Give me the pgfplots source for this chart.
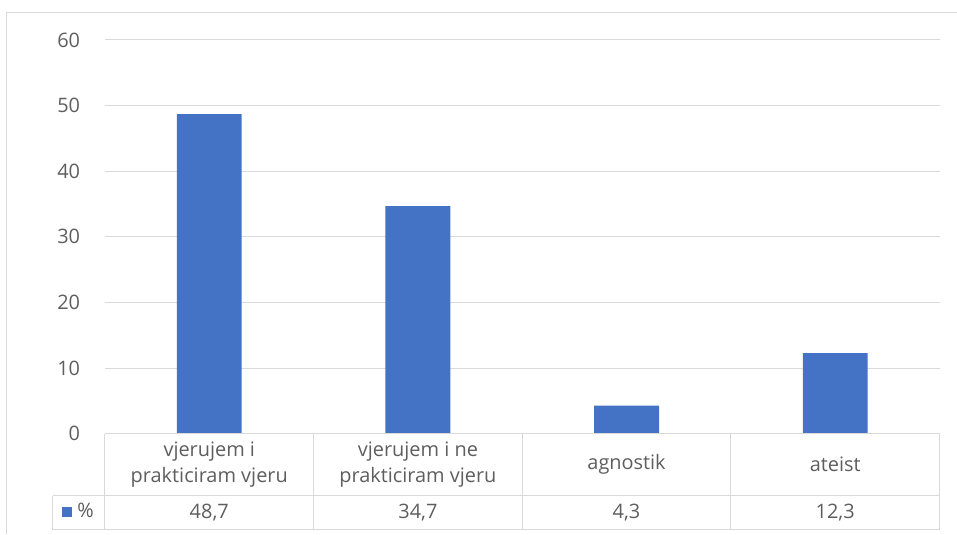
\documentclass[border=0pt]{standalone}
\usepackage{fontspec}
\setmainfont{Open Sans}
\usepackage{pgfplots}
\pgfplotsset{compat=1.18}
\usepackage{pgfplotstable}

\definecolor{barblue}{HTML}{4472C4}
\definecolor{txtgray}{HTML}{5E5E5E}
\definecolor{gridgray}{HTML}{D9D9D9}

\pgfplotstableread{
x y
0 48.7
1 34.7
2 4.3
3 12.3
}\data

\begin{document}
\fontsize{20}{26}\selectfont
\begin{tikzpicture}
\begin{axis}[
  scale only axis, width=835bp, height=394bp,
  xmin=-0.5, xmax=3.5, ymin=0, ymax=60,
  ytick={0,10,...,60},
  xtick={0,1,2,3},
  xticklabels={{vjerujem i\\prakticiram vjeru},{vjerujem i ne\\prakticiram vjeru},agnostik,ateist},
  xticklabel style={align=center, anchor=center, yshift=-31bp, text=txtgray},
  yticklabel style={text=txtgray, xshift=-18bp},
  major tick length=0pt,
  axis lines=left,
  axis line style={draw=none},
  ymajorgrids, grid style={gridgray, line width=1bp},
  clip=false,
  /pgf/number format/assume math mode=true,
  legend style={draw=none, fill=none, at={(-0.031,-0.198)}, anchor=center,
    inner sep=0pt, text=txtgray,
    /tikz/every odd column/.append style={column sep=3bp}},
]
\addplot[ybar, bar width=0.311, bar shift=0pt, fill=barblue, draw=none,
  legend image code/.code={\fill[barblue] (0bp,-5bp) rectangle (10bp,5bp);}]
  table[x=x, y=y]{\data};
\addlegendentry{\%}
% values row of the data table
\addplot[draw=none, mark=none, forget plot, point meta=explicit,
  nodes near coords={\pgfmathprintnumber[fixed, fixed zerofill, precision=1, use comma, assume math mode=true]{\pgfplotspointmeta}},
  every node near coord/.append style={anchor=center, text=txtgray}]
  table[x=x, y expr=-12.03, meta=y]{\data};
\end{axis}
\pgfresetboundingbox
\begin{scope}[shift={(current axis.south west)}, x=1bp, y=1bp, gridgray, line width=1bp]
  \path (-105,-100) rectangle (852,434);
  % chart border
  \draw (-98,-100) -- (-98,421) -- (852,421);
  % data table
  \draw (0,0) -- (835,0);
  \draw (-52,-62) -- (835,-62);
  \draw (-52,-96) -- (835,-96);
  \draw (-52,-62) -- (-52,-96);
  \foreach \c in {0,208.75,417.5,626.25,835} \draw (\c,0) -- (\c,-96);
\end{scope}
\end{tikzpicture}
\end{document}
